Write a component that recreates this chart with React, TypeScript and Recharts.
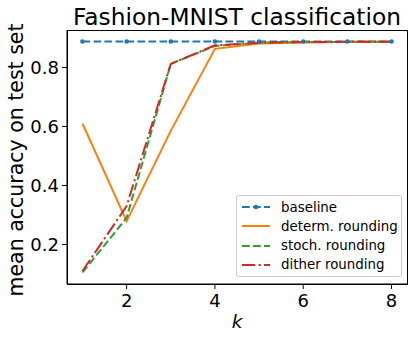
import React from 'react';
import { LineChart, Line, XAxis, YAxis, Label } from 'recharts';

const ks = [1, 2, 3, 4, 5, 6, 7, 8];
const baseline = [0.888, 0.888, 0.888, 0.888, 0.888, 0.888, 0.888, 0.888];
const determ = [0.61, 0.279, 0.585, 0.863, 0.881, 0.885, 0.886, 0.887];
const stoch = [0.105, 0.29, 0.812, 0.873, 0.884, 0.886, 0.887, 0.887];
const dither = [0.11, 0.33, 0.812, 0.875, 0.884, 0.886, 0.887, 0.887];
const xTicks = [2, 4, 6, 8];
const yTicks = [0.2, 0.4, 0.6, 0.8];

const data = ks.map((k, i) => ({
  k,
  baseline: baseline[i],
  determ: determ[i],
  stoch: stoch[i],
  dither: dither[i],
}));

const series = [
  { key: 'baseline', name: 'baseline', color: '#1f77b4', dash: '7.7 3.3', dot: true },
  { key: 'determ', name: 'determ. rounding', color: '#ff7f0e', dash: undefined, dot: false },
  { key: 'stoch', name: 'stoch. rounding', color: '#2ca02c', dash: '7.7 3.3', dot: false },
  { key: 'dither', name: 'dither rounding', color: '#d62728', dash: '13.3 3.3 2.1 3.3', dot: false },
];

const FONT = '"DejaVu Sans", sans-serif';

export default function App() {
  return (
    <div style={{ position: 'absolute', left: 0, top: 0, width: 415, height: 339, background: '#fff', fontFamily: FONT }}>
      <LineChart width={415} height={339} data={data} margin={{ top: 30, right: 8, bottom: 0, left: 0 }}>
        <XAxis
          dataKey="k"
          type="number"
          domain={[0.65, 8.35]}
          ticks={xTicks}
          allowDataOverflow
          height={55}
          stroke="#000"
          tickSize={5}
          tickMargin={5}
          tick={{ fill: '#000', fontSize: 18, fontFamily: FONT }}
          tickLine={{ stroke: '#000' }}
        >
          <Label
            content={() => (
              <text x={237} y={328} textAnchor="middle" fontSize={18.5} fontStyle="italic" fontFamily={FONT} fill="#000">
                k
              </text>
            )}
          />
        </XAxis>
        <YAxis
          type="number"
          domain={[0.066, 0.927]}
          ticks={yTicks}
          allowDataOverflow
          width={67}
          stroke="#000"
          tickSize={5}
          tickMargin={3}
          tick={{ fill: '#000', fontSize: 18, fontFamily: FONT }}
          tickFormatter={(v: number) => v.toFixed(1)}
        >
          <Label
            content={() => (
              <text
                x={23}
                y={160}
                transform="rotate(-90 23 160)"
                textAnchor="middle"
                fontSize={20.5}
                fontFamily={FONT}
                fill="#000"
              >
                mean accuracy on test set
              </text>
            )}
          />
        </YAxis>
        {series.map((s) => (
          <Line
            key={s.key}
            dataKey={s.key}
            name={s.name}
            stroke={s.color}
            strokeWidth={2}
            strokeDasharray={s.dash}
            dot={s.dot ? { r: 2.3, fill: s.color, stroke: s.color, strokeWidth: 0, strokeDasharray: '' } : false}
            activeDot={false}
            type="linear"
            isAnimationActive={false}
          />
        ))}
      </LineChart>
      <div
        style={{
          position: 'absolute',
          left: 66.5,
          top: 29.5,
          width: 341,
          height: 255,
          border: '1px solid #000',
          boxSizing: 'border-box',
          pointerEvents: 'none',
        }}
      />
      <div
        style={{
          position: 'absolute',
          left: 0,
          top: 0,
          width: 474,
          textAlign: 'center',
          fontSize: 23.3,
          lineHeight: '34px',
          color: '#000',
          fontFamily: FONT,
        }}
      >
        Fashion-MNIST classification
      </div>
      <div
        style={{
          position: 'absolute',
          left: 236,
          top: 195,
          width: 166,
          height: 82,
          border: '1px solid #cccccc',
          borderRadius: 3,
          background: 'rgba(255,255,255,0.8)',
          boxSizing: 'border-box',
        }}
      >
        {series.map((s, i) => (
          <div key={s.key} style={{ position: 'absolute', left: 4, top: 1.5 + i * 19.3, height: 19, display: 'flex', alignItems: 'center' }}>
            <svg width={30} height={10} style={{ display: 'block' }}>
              <line x1={1} y1={5} x2={29} y2={5} stroke={s.color} strokeWidth={2} strokeDasharray={s.dash} />
              {s.dot && <circle cx={15} cy={5} r={2.3} fill={s.color} />}
            </svg>
            <span style={{ marginLeft: 10, fontSize: 13.4, color: '#000', fontFamily: FONT, whiteSpace: 'nowrap' }}>{s.name}</span>
          </div>
        ))}
      </div>
    </div>
  );
}
